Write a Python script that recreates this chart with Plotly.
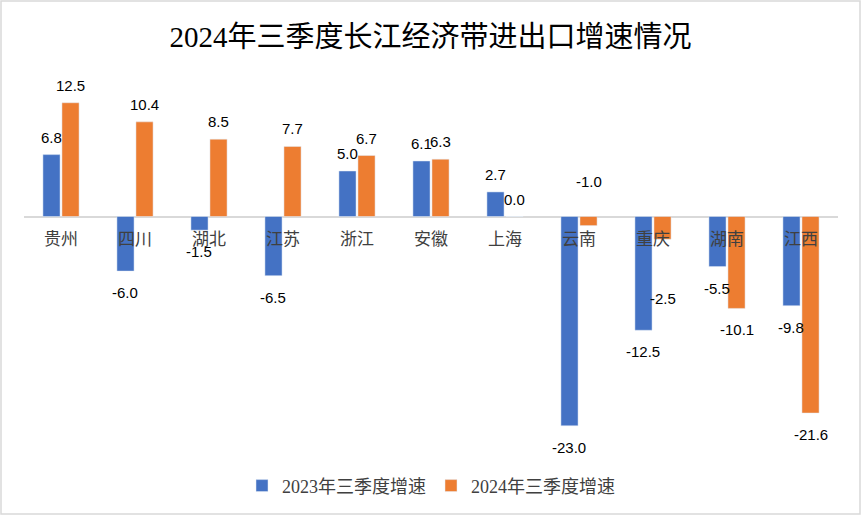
import plotly.graph_objects as go

categories = ["贵州", "四川", "湖北", "江苏", "浙江", "安徽", "上海", "云南", "重庆", "湖南", "江西"]
growth_2023 = [6.8, -6.0, -1.5, -6.5, 5.0, 6.1, 2.7, -23.0, -12.5, -5.5, -9.8]
growth_2024 = [12.5, 10.4, 8.5, 7.7, 6.7, 6.3, 0.0, -1.0, -2.5, -10.1, -21.6]
series_names = ["2023年三季度增速", "2024年三季度增速"]
title_text = "2024年三季度长江经济带进出口增速情况"

y_min, y_max = -25, 15
colors = ["#4472C4", "#ED7D31"]

W, H = 861, 515
ML, MR, MT, MB = 24, 23, 80, 71
plot_w = W - ML - MR
bargap, bargroupgap = 0.486, 0.1
cat_px = plot_w / len(categories)
slot_px = cat_px * (1 - bargap) / 2
offsets = [-slot_px / 2, slot_px / 2]

# manually moved labels in the original (series index, category) -> extra pixel shift
moved = {(1, "云南"): 66, (1, "重庆"): -38}

fig = go.Figure()
annotations = []
label_font = dict(family="Liberation Sans, Arial, sans-serif", size=15, color="#000000")
for si, (name, vals) in enumerate(zip(series_names, [growth_2023, growth_2024])):
    fig.add_trace(go.Bar(x=categories, y=vals, name=name, marker_color=colors[si],
                         hoverinfo="x+y+name"))
    for cat, v in zip(categories, vals):
        pos = v >= 0
        annotations.append(dict(
            x=cat, y=v, xref="x", yref="y", text=f"{v:.1f}", showarrow=False,
            xshift=offsets[si], yanchor="bottom" if pos else "top",
            yshift=(7 if pos else -11) + moved.get((si, cat), 0),
            font=label_font,
        ))

zero_pos = (0 - y_min) / (y_max - y_min)
ph = H - MT - MB

fig.update_layout(
    width=W, height=H,
    margin=dict(l=ML, r=MR, t=MT, b=MB, autoexpand=False),
    paper_bgcolor="white", plot_bgcolor="white",
    barmode="group", bargap=bargap, bargroupgap=bargroupgap,
    title=dict(text=title_text, x=0.5, xanchor="center", y=1 - 37 / H, yanchor="middle",
               font=dict(family="Liberation Serif, Noto Sans CJK SC", size=29, color="#000000")),
    xaxis=dict(anchor="free", position=zero_pos, showline=False, showgrid=False,
               ticks="", ticklabelstandoff=10,
               tickfont=dict(family="Liberation Serif, Noto Sans CJK SC", size=17, color="#404040")),
    yaxis=dict(range=[y_min, y_max], showticklabels=False, showgrid=False,
               zeroline=True, zerolinecolor="#D9D9D9", zerolinewidth=2, showline=False, ticks=""),
    legend=dict(orientation="h", x=0.5, xanchor="center", y=-(487 - (MT + ph)) / ph + 0.003,
                yanchor="middle",
                font=dict(family="Liberation Serif, Noto Sans CJK SC", size=18, color="#404040"),
                itemwidth=30, traceorder="normal"),
    showlegend=True,
    annotations=annotations,
)

fig.add_shape(type="rect", xref="paper", yref="paper",
              x0=-(ML - 1) / plot_w, x1=1 + (MR - 1) / plot_w,
              y0=-(MB - 1) / ph, y1=1 + (MT - 1) / ph,
              line=dict(color="#D9D9D9", width=1.5), fillcolor="rgba(0,0,0,0)", layer="below")

fig.write_html("out.html", config={"displayModeBar": False},
               post_script="document.body.style.margin='0';")
